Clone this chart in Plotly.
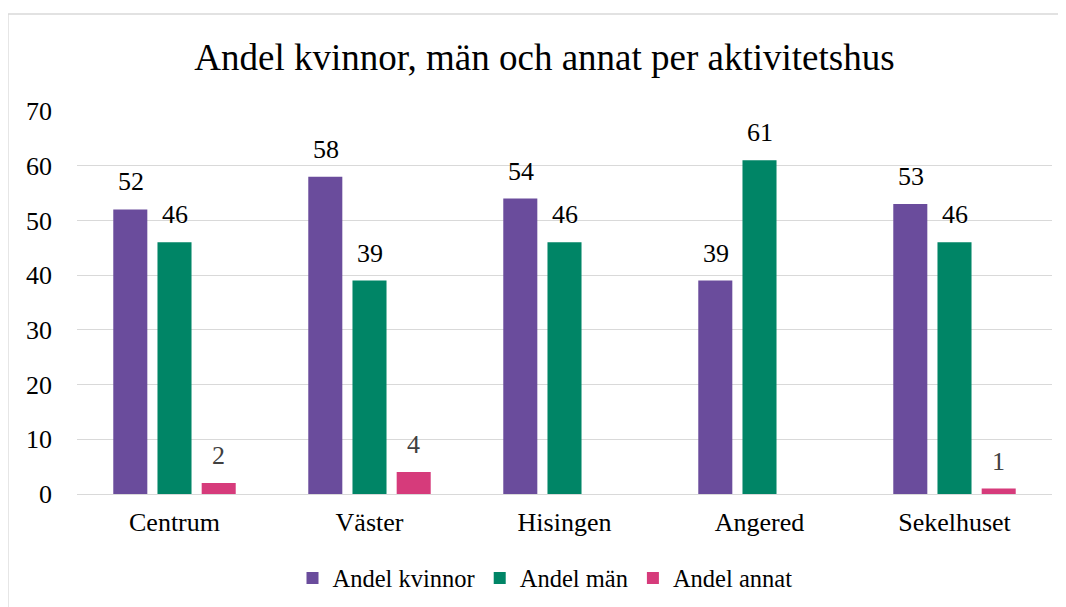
import plotly.graph_objects as go

# Aktivitetshus och andelar (procent)
hus = ["Centrum", "Väster", "Hisingen", "Angered", "Sekelhuset"]
andel_kvinnor = [52, 58, 54, 39, 53]
andel_man = [46, 39, 46, 61, 46]
andel_annat = [2, 4, None, None, 1]

FONT = "Liberation Serif"
OFF = 8  # sidans body-marginal i webbläsaren
W, H = 1066 - OFF, 607 - OFF
L, R, T, B = 77 - OFF, 1052 - OFF, 111 - OFF, 494 - OFF


def px_x(px):
    return (px - OFF - L) / (R - L)


def px_y(py):
    return (B - (py - OFF)) / (B - T)


fig = go.Figure()
series = [
    ("Andel kvinnor", andel_kvinnor, "#6a4c9c", "#000000", -44),
    ("Andel män", andel_man, "#008566", "#000000", 0),
    ("Andel annat", andel_annat, "#d63b7b", "#404040", 44),
]
for name, vals, color, lblcol, shift in series:
    fig.add_trace(go.Bar(
        name=name, x=hus, y=vals,
        marker=dict(color=color, line=dict(width=0)),
    ))
    for cat, v in zip(hus, vals):
        if v is None:
            continue
        fig.add_annotation(x=cat, y=v, text=str(v), showarrow=False,
                           xshift=shift, yshift=11, yanchor="bottom",
                           font=dict(family=FONT, size=26, color=lblcol))

# ram runt hela diagrammet
fig.add_shape(type="rect", xref="paper", yref="paper",
              x0=px_x(8), x1=px_x(1062), y0=px_y(620), y1=px_y(14),
              line=dict(color="#d9d9d9", width=1.3), layer="below")

fig.update_layout(
    width=W, height=H,
    margin=dict(l=L, r=W - R, t=T, b=H - B, autoexpand=False),
    paper_bgcolor="white", plot_bgcolor="white",
    barmode="group", bargap=0.32, bargroupgap=0.23,
    font=dict(family=FONT, color="#000000"),
    title=dict(text="Andel kvinnor, män och annat per aktivitetshus",
               x=0.507, xanchor="center", y=1 - (57 - OFF) / H, yanchor="middle",
               font=dict(family=FONT, size=37, color="#000000")),
    xaxis=dict(showgrid=False, showline=False, ticks="", automargin=False,
               ticklabelstandoff=10,
               tickfont=dict(family=FONT, size=26, color="#000000")),
    yaxis=dict(range=[0, 70], dtick=10, showgrid=True, gridcolor="#d9d9d9",
               gridwidth=1.3, zeroline=True, zerolinecolor="#d9d9d9",
               zerolinewidth=1.3, showline=False, ticks="", automargin=False,
               ticklabelstandoff=24,
               tickfont=dict(family=FONT, size=26, color="#000000")),
    legend=dict(orientation="h", x=0.48, xanchor="center",
                y=px_y(578), yanchor="middle",
                font=dict(family=FONT, size=24.5, color="#000000"),
                itemwidth=30, traceorder="normal"),
    showlegend=True,
)

fig.write_html("out.html")
